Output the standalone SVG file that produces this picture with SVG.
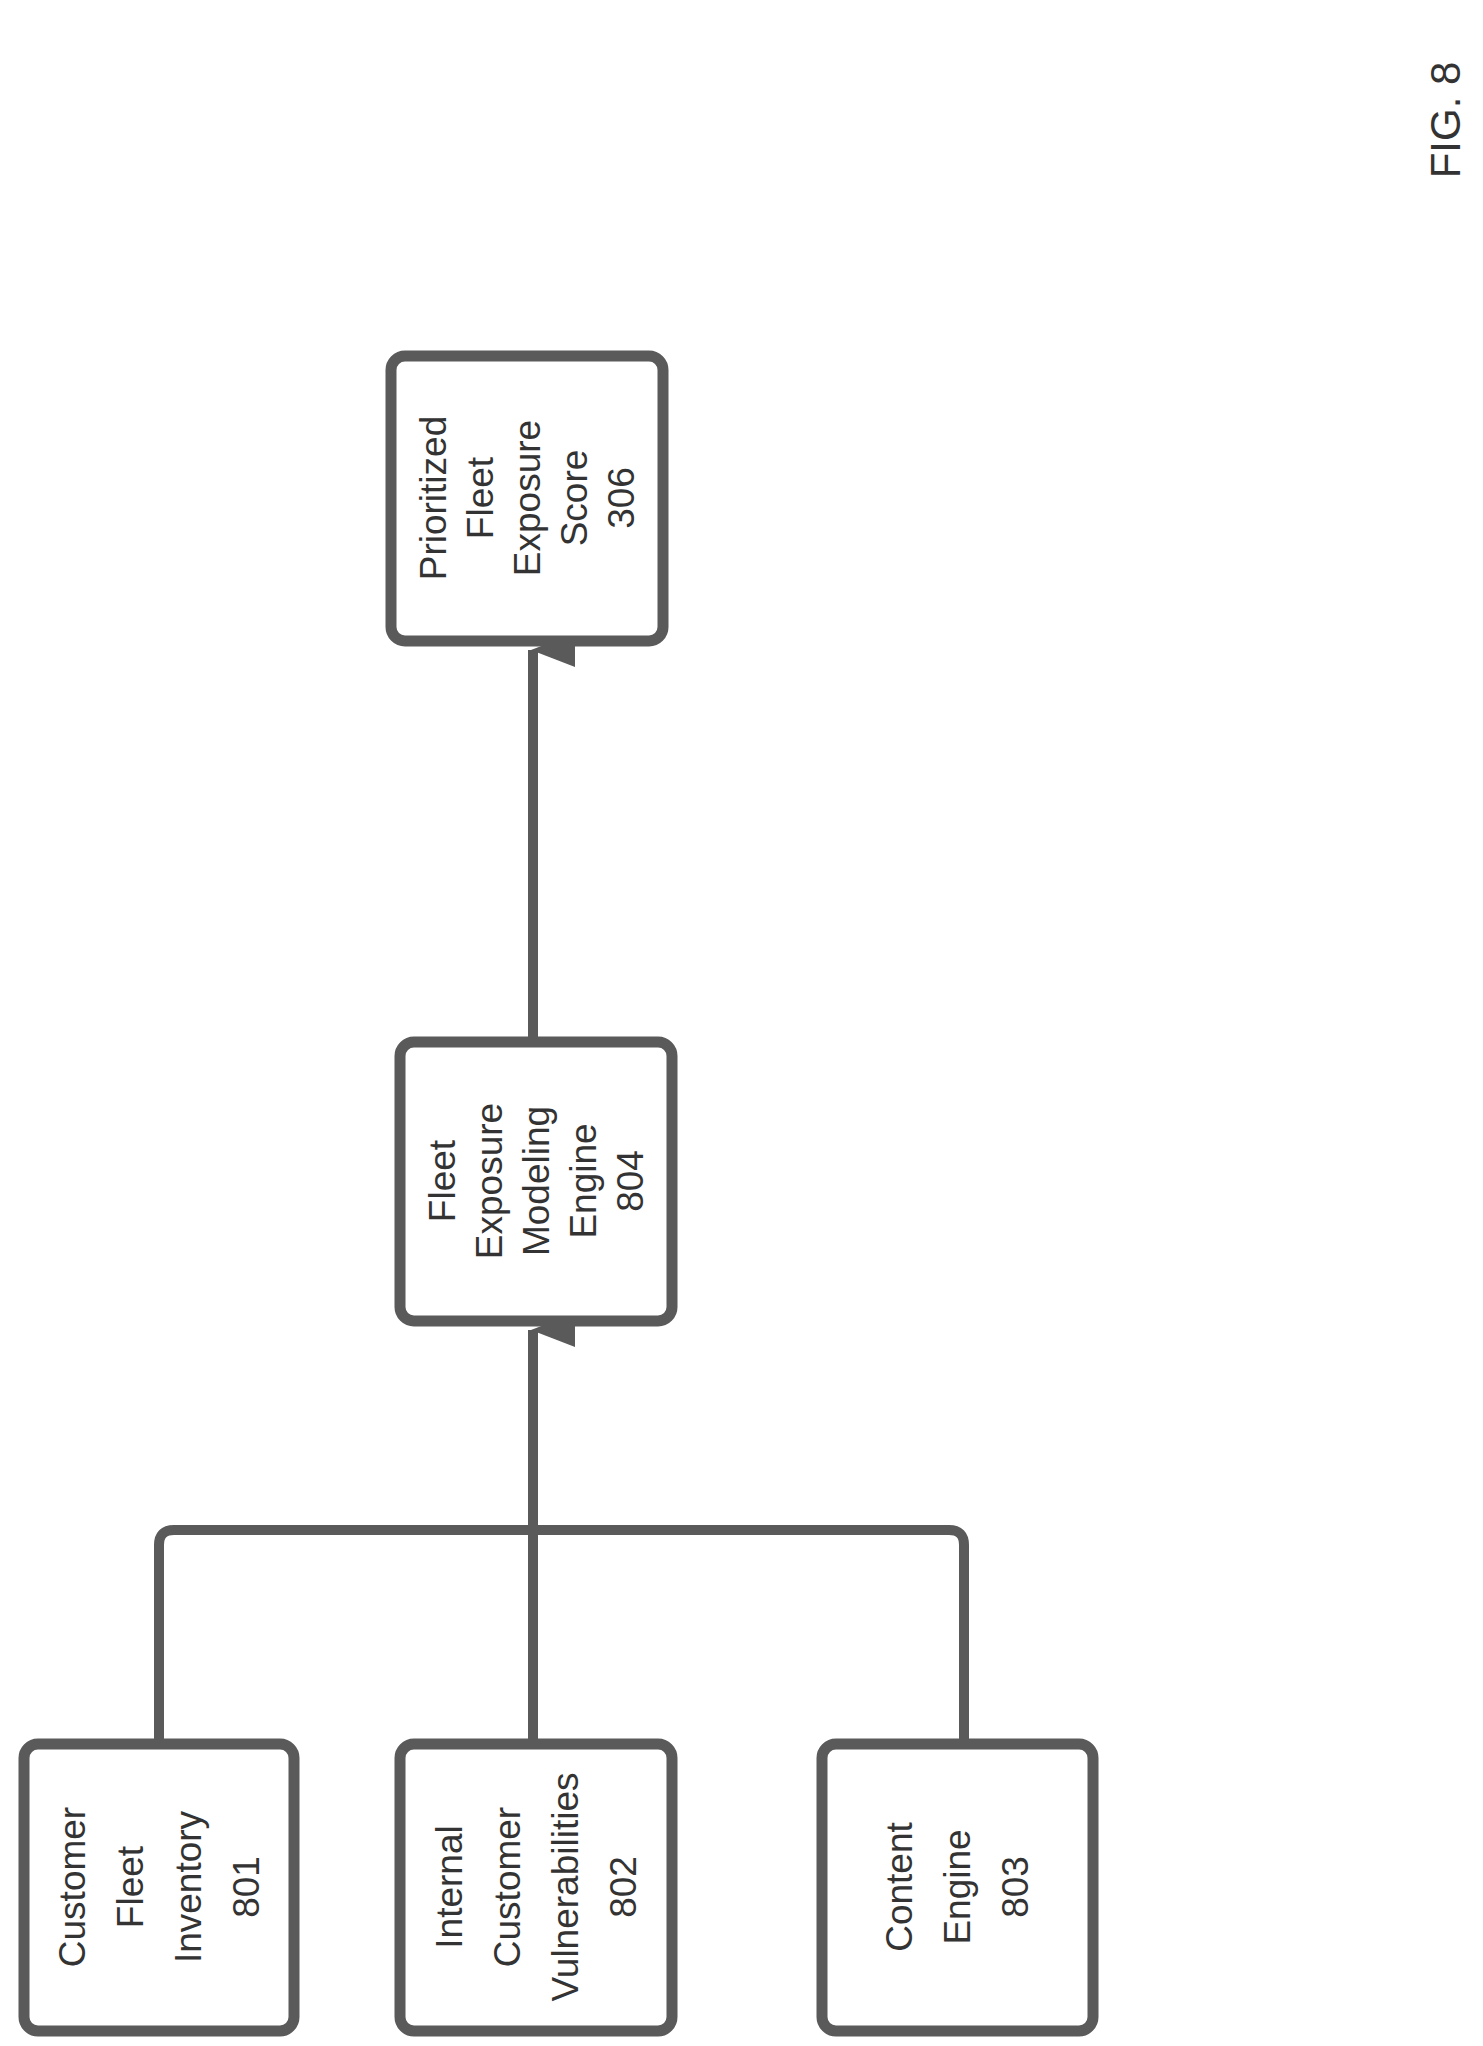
<svg xmlns="http://www.w3.org/2000/svg" width="1483" height="2046" viewBox="0 0 1483 2046">
<style>
.box{fill:#fff;stroke:#5a5a5a;stroke-width:11}
.ln{fill:none;stroke:#5a5a5a;stroke-width:10}
text{font-family:"Liberation Sans",Arial,sans-serif;font-size:37px;fill:#333;text-anchor:middle}
</style>
<defs>
<marker id="ah" markerUnits="userSpaceOnUse" markerWidth="34" markerHeight="44" refX="17" refY="2" orient="auto-start-reverse" viewBox="0 0 34 44">
<polygon points="17,0 34,44 0,44" fill="#5a5a5a"/>
</marker>
</defs>
<g id="connectors">
<path class="ln" d="M159 1744 V1545 Q159 1530 174 1530 H949 Q964 1530 964 1545 V1744"/>
<path class="ln" d="M533 1744 V1330" marker-end="url(#ah)"/>
<path class="ln" d="M533 1042 V650" marker-end="url(#ah)"/>
</g>
<g id="n801">
<rect class="box" x="24" y="1744" width="270" height="287" rx="14"/>
<g transform="translate(159,1887) rotate(-90)"><text y="-74">Customer</text><text y="-16">Fleet</text><text y="42">Inventory</text><text y="100">801</text></g>
</g>
<g id="n802">
<rect class="box" x="400" y="1744" width="272" height="287" rx="14"/>
<g transform="translate(536,1887) rotate(-90)"><text y="-74">Internal</text><text y="-16">Customer</text><text y="42">Vulnerabilities</text><text y="100">802</text></g>
</g>
<g id="n803">
<rect class="box" x="822" y="1744" width="271" height="287" rx="14"/>
<g transform="translate(957,1887) rotate(-90)"><text y="-45">Content</text><text y="13">Engine</text><text y="71">803</text></g>
</g>
<g id="n804">
<rect class="box" x="400" y="1042" width="272" height="279" rx="14"/>
<g transform="translate(536,1181) rotate(-90)"><text y="-81">Fleet</text><text y="-34">Exposure</text><text y="13">Modeling</text><text y="60">Engine</text><text y="107">804</text></g>
</g>
<g id="n306">
<rect class="box" x="391" y="356" width="272" height="285" rx="14"/>
<g transform="translate(527,498) rotate(-90)"><text y="-81">Prioritized</text><text y="-34">Fleet</text><text y="13">Exposure</text><text y="60">Score</text><text y="107">306</text></g>
</g>
<text transform="translate(1460,120) rotate(-90)" style="font-size:42px">FIG. 8</text>
</svg>
